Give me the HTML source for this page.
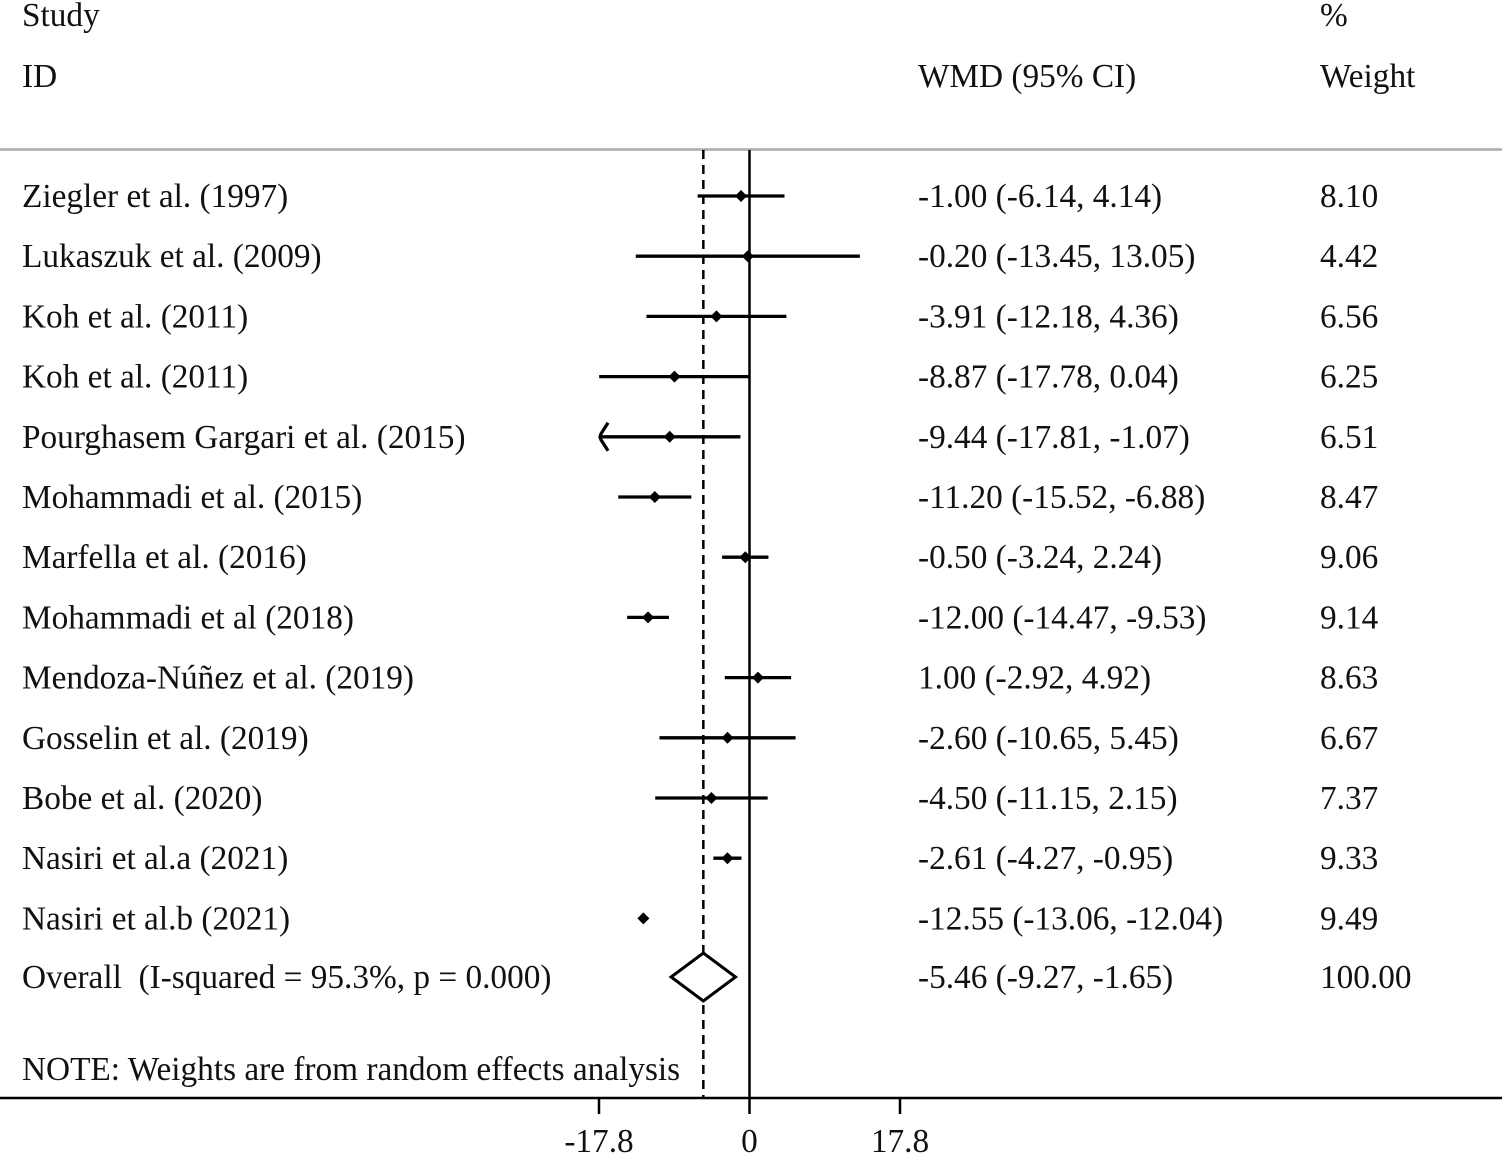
<!DOCTYPE html>
<html><head><meta charset="utf-8"><style>
html,body{margin:0;padding:0;background:#fff;}
svg{display:block;font-family:"Liberation Serif",serif;}
text{font-size:33.3px;fill:#111;white-space:pre;}
</style></head><body>
<svg id="chart" width="1505" height="1162" viewBox="0 0 1505 1162">
<text x="22" y="26">Study</text>
<text x="22" y="87">ID</text>
<text x="918" y="87">WMD (95% CI)</text>
<text x="1320" y="26">%</text>
<text x="1320" y="87">Weight</text>
<line x1="0" y1="149.5" x2="1502" y2="149.5" stroke="#aaa" stroke-width="2.5"/>
<g id="marks"></g>
<text x="22" y="1080">NOTE: Weights are from random effects analysis</text>
</svg>
<script>
const studies = ["Ziegler et al. (1997)","Lukaszuk et al. (2009)","Koh et al. (2011)","Koh et al. (2011)","Pourghasem Gargari et al. (2015)","Mohammadi et al. (2015)","Marfella et al. (2016)","Mohammadi et al (2018)","Mendoza-Núñez et al. (2019)","Gosselin et al. (2019)","Bobe et al. (2020)","Nasiri et al.a (2021)","Nasiri et al.b (2021)"];
const est = [-1.00,-0.20,-3.91,-8.87,-9.44,-11.20,-0.50,-12.00,1.00,-2.60,-4.50,-2.61,-12.55];
const lo = [-6.14,-13.45,-12.18,-17.78,-17.81,-15.52,-3.24,-14.47,-2.92,-10.65,-11.15,-4.27,-13.06];
const hi = [4.14,13.05,4.36,0.04,-1.07,-6.88,2.24,-9.53,4.92,5.45,2.15,-0.95,-12.04];
const weights = ["8.10","4.42","6.56","6.25","6.51","8.47","9.06","9.14","8.63","6.67","7.37","9.33","9.49"];
const overall = [-5.46,-9.27,-1.65];
const overallLabel = "Overall  (I-squared = 95.3%, p = 0.000)";
const ticks = [-17.8,0,17.8];
const tickLabels = ["-17.8","0","17.8"];

const NS="http://www.w3.org/2000/svg";
const g=document.getElementById('marks');
const xs=v=>749.5+v*(150.5/17.8);
const ys=i=>196+i*60.2;
const xmin=-17.8;
function el(t,a){const e=document.createElementNS(NS,t);for(const k in a)e.setAttribute(k,a[k]);g.appendChild(e);return e;}
function fmt(v){return v.toFixed(2);}

let l=el('line',{x1:xs(0),y1:150,x2:xs(0),y2:1098,stroke:'#000','stroke-width':2.5});


l=el('line',{x1:xs(overall[0]),y1:150,x2:xs(overall[0]),y2:1098,stroke:'#000','stroke-width':2.5,'stroke-dasharray':'9 6'});


l=el('line',{x1:0,y1:1098,x2:1502,y2:1098,stroke:'#000','stroke-width':2.5});


ticks.forEach((t,i)=>{
  const tk=el('line',{x1:xs(t),y1:1098,x2:xs(t),y2:1114,stroke:'#000','stroke-width':2.5});
  
  
  const tl=el('text',{x:xs(t),y:1152,'text-anchor':'middle'});
  tl.textContent=tickLabels[i];
  
  
});

studies.forEach((s,i)=>{
  const y=ys(i);
  const t=el('text',{x:22,y:y+11});t.textContent=s;
  
  
  const w=el('text',{x:918,y:y+11});w.textContent=fmt(est[i])+" ("+fmt(lo[i])+", "+fmt(hi[i])+")";
  
  
  const wt=el('text',{x:1320,y:y+11});wt.textContent=weights[i];
  
  
  const clipped=lo[i]<xmin;
  const x1=xs(Math.max(lo[i],xmin)), x2=xs(hi[i]);
  if(x2-x1>8){
    const ci=el('line',{x1:x1,y1:y,x2:x2,y2:y,stroke:'#000','stroke-width':3.3});
    
    
  }
  if(clipped){
    const a=el('path',{d:`M${x1+9},${y-14} L${x1+2},${y-3} L${x1+1},${y} L${x1+2},${y+3} L${x1+9},${y+14}`,fill:'none',stroke:'#000','stroke-width':3.3});
    
    
  }
  const cx=xs(est[i]);
  const p=el('path',{d:`M${cx-6},${y} L${cx},${y-6} L${cx+6},${y} L${cx},${y+6}Z`,fill:'#000'});
  
  
});

const oy=977;
const ot=el('text',{x:22,y:oy+11});ot.textContent=overallLabel;


const ow=el('text',{x:918,y:oy+11});ow.textContent=fmt(overall[0])+" ("+fmt(overall[1])+", "+fmt(overall[2])+")";


const owt=el('text',{x:1320,y:oy+11});owt.textContent="100.00";


const d=el('path',{d:`M${xs(overall[1])},${oy} L${xs(overall[0])},${oy-24} L${xs(overall[2])},${oy} L${xs(overall[0])},${oy+24}Z`,fill:'#fff',stroke:'#000','stroke-width':3});


</script>
</body></html>
